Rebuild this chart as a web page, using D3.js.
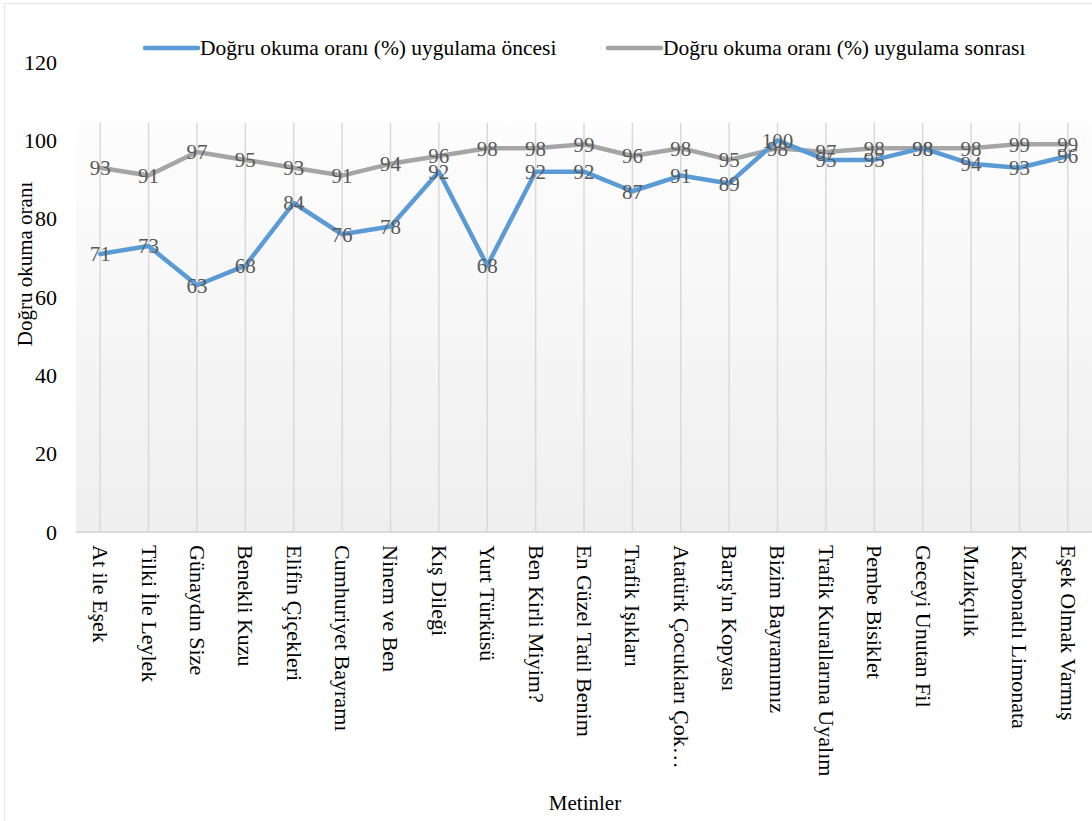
<!DOCTYPE html>
<html>
<head>
<meta charset="utf-8">
<script src="https://cdn.jsdelivr.net/npm/d3@7"></script>
<style>
  body { margin: 0; background: #fff; }
  text { font-family: "Liberation Serif", "Times New Roman", serif; }
</style>
</head>
<body>
<script>
const width = 1092;
const height = 821;

// Data
const categories = ["At ile Eşek", "Tilki İle Leylek", "Günaydın Size", "Benekli Kuzu", "Elifin Çiçekleri",
    "Cumhuriyet Bayramı", "Ninem ve Ben", "Kış Dileği", "Yurt Türküsü", "Ben Kirli Miyim?",
    "En Güzel Tatil Benim", "Trafik Işıkları", "Atatürk Çocukları Çok…", "Barış'ın Kopyası",
    "Bizim Bayramımız", "Trafik Kurallarına Uyalım", "Pembe Bisiklet", "Geceyi Unutan Fil",
    "Mızıkçılık", "Karbonatlı Limonata", "Eşek Olmak Varmış"];
const before = [71, 73, 63, 68, 84, 76, 78, 92, 68, 92, 92, 87, 91, 89, 100, 95, 95, 98, 94, 93, 96];
const after = [93, 91, 97, 95, 93, 91, 94, 96, 98, 98, 99, 96, 98, 95, 98, 97, 98, 98, 98, 99, 99];
const yTicks = [0, 20, 40, 60, 80, 100, 120];
const seriesNames = ["Doğru okuma oranı (%) uygulama öncesi", "Doğru okuma oranı (%) uygulama sonrası"];
const seriesColors = ["#5B9BD5", "#A5A5A5"];

const margin = { top: 62, left: 76, right: 0, bottom: 289 };
const serif = "Liberation Serif, Times New Roman, serif";

const svg = d3.select("body")
    .append("svg")
    .attr("width", width)
    .attr("height", height);

// chart frame
svg.append("rect")
    .attr("x", 4.5).attr("y", 3.5)
    .attr("width", width + 10).attr("height", height + 10)
    .attr("fill", "none")
    .attr("stroke", "#e3e3e3");

const x = d3.scaleBand()
    .domain(categories)
    .range([margin.left, width - margin.right]);

const y = d3.scaleLinear()
    .domain([0, 120])
    .range([height - margin.bottom, margin.top]);

// plot background gradient
const grad = svg.append("defs").append("linearGradient")
    .attr("id", "bg").attr("x1", 0).attr("y1", 0).attr("x2", 0).attr("y2", 1);
grad.append("stop").attr("offset", "0%").attr("stop-color", "#fdfdfd");
grad.append("stop").attr("offset", "100%").attr("stop-color", "#efefef");

svg.append("rect")
    .attr("x", margin.left)
    .attr("y", y(104.5))
    .attr("width", width - margin.right - margin.left)
    .attr("height", y(0) - y(104.5))
    .attr("fill", "url(#bg)");

// vertical gridlines
svg.append("g")
    .selectAll("line")
    .data(categories)
    .join("line")
    .attr("x1", d => x(d) + x.bandwidth() / 2)
    .attr("x2", d => x(d) + x.bandwidth() / 2)
    .attr("y1", y(104.5))
    .attr("y2", y(0))
    .attr("stroke", "#d9d9d9")
    .attr("stroke-width", 1.5);

// x axis line
svg.append("line")
    .attr("x1", margin.left).attr("x2", width)
    .attr("y1", y(0)).attr("y2", y(0))
    .attr("stroke", "#d9d9d9")
    .attr("stroke-width", 2);

// y axis tick labels
const yAxis = d3.axisLeft(y).tickValues(yTicks).tickSize(0).tickPadding(0);
const yg = svg.append("g")
    .attr("transform", `translate(${57},0)`)
    .call(yAxis);
yg.select(".domain").remove();
yg.attr("font-family", serif);
yg.selectAll("text")
    .attr("font-size", 22)
    .attr("fill", "#000")
    .attr("text-anchor", "end");

// x category labels, rotated
const xAxis = d3.axisBottom(x).tickSize(0).tickPadding(0);
const xg = svg.append("g")
    .attr("transform", `translate(0,${y(0)})`)
    .call(xAxis);
xg.select(".domain").remove();
xg.attr("font-family", serif);
xg.selectAll("text")
    .attr("font-size", 22)
    .attr("fill", "#000")
    .attr("transform", "rotate(90)")
    .attr("x", 13)
    .attr("y", 0)
    .attr("dy", "0.32em")
    .attr("text-anchor", "start");

// axis titles
svg.append("text")
    .attr("x", 585).attr("y", 810)
    .attr("text-anchor", "middle")
    .attr("font-family", serif)
    .attr("font-size", 21)
    .text("Metinler");

svg.append("text")
    .attr("transform", `translate(32,264) rotate(-90)`)
    .attr("text-anchor", "middle")
    .attr("font-family", serif)
    .attr("font-size", 21)
    .text("Doğru okuma oranı");

// lines
const line = d3.line()
    .x((d, i) => x(categories[i]) + x.bandwidth() / 2)
    .y(d => y(d));

[after, before].forEach((values, k) => {
    const color = k === 0 ? seriesColors[1] : seriesColors[0];
    svg.append("path")
        .datum(values)
        .attr("fill", "none")
        .attr("stroke", color)
        .attr("stroke-width", 4.5)
        .attr("stroke-linejoin", "round")
        .attr("stroke-linecap", "round")
        .attr("d", line);
});

// data labels (centered on points)
[after, before].forEach(values => {
    svg.append("g")
        .selectAll("text")
        .data(values)
        .join("text")
        .attr("x", (d, i) => x(categories[i]) + x.bandwidth() / 2)
        .attr("y", d => y(d))
        .attr("dy", "0.35em")
        .attr("text-anchor", "middle")
        .attr("font-family", serif)
        .attr("font-size", 21)
        .attr("fill", "#595959")
        .text(d => d);
});

// legend
const legendX = [145, 608];
seriesNames.forEach((name, i) => {
    const g = svg.append("g").attr("transform", `translate(${legendX[i]},48)`);
    g.append("line")
        .attr("x1", 0).attr("x2", 53)
        .attr("y1", 0).attr("y2", 0)
        .attr("stroke", seriesColors[i])
        .attr("stroke-width", 4.5)
        .attr("stroke-linecap", "round");
    g.append("text")
        .attr("x", 55).attr("y", 0)
        .attr("dy", "0.32em")
        .attr("font-family", serif)
        .attr("font-size", 21.5)
        .attr("fill", "#000")
        .text(name);
});
</script>
</body>
</html>
